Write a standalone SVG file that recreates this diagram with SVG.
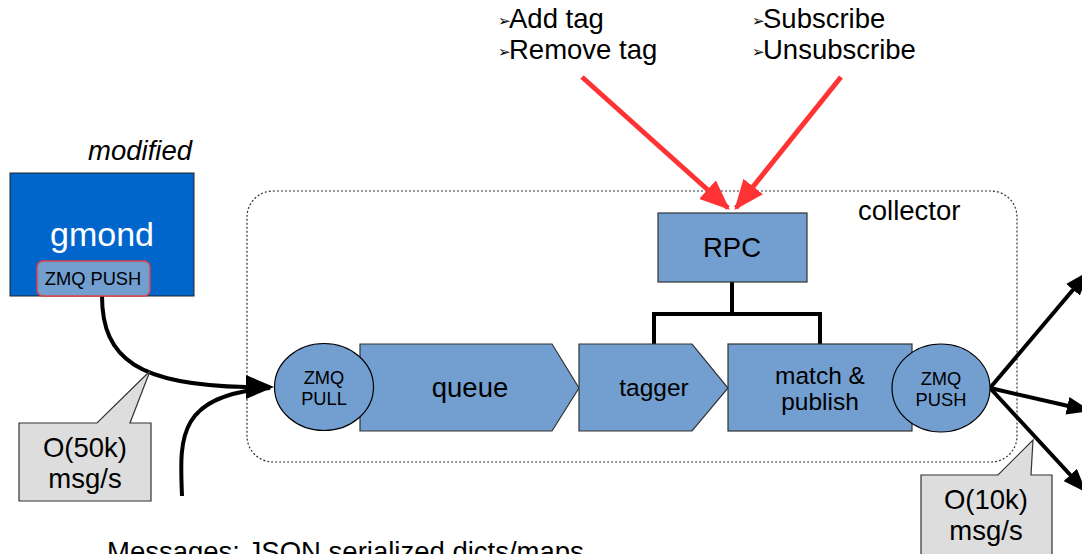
<svg xmlns="http://www.w3.org/2000/svg" width="1082" height="554" viewBox="0 0 1082 554">
<defs>
<style>
text{font-family:"Liberation Sans",Arial,sans-serif;fill:#000}
.blk{fill:#729fcf;stroke:#333;stroke-width:1.2}
.ell{fill:#729fcf;stroke:#000;stroke-width:1.2}
.call{fill:#dddddd;stroke:#333;stroke-width:1.2}
.wire{fill:none;stroke:#000;stroke-width:4}
.red{fill:none;stroke:#ff3333;stroke-width:5}
.t24{font-size:27.5px}
.t22{font-size:24.5px}
.t16{font-size:18.3px}
.mid{text-anchor:middle}
.bul{font-size:15px;font-family:"DejaVu Sans",sans-serif}
</style>
<marker id="ah" markerWidth="8" markerHeight="6" refX="7.5" refY="3" orient="auto" markerUnits="strokeWidth"><path d="M0,0 L8,3 L0,6 z" fill="#000"/></marker>
<marker id="ahr" markerWidth="6" markerHeight="5" refX="5.5" refY="2.5" orient="auto" markerUnits="strokeWidth"><path d="M0,0 L6,2.5 L0,5 z" fill="#ff3333"/></marker>
<marker id="ahs" markerWidth="6" markerHeight="4.5" refX="5.8" refY="2.25" orient="auto" markerUnits="strokeWidth"><path d="M0,0 L6,2.25 L0,4.5 z" fill="#000"/></marker>
</defs>

<g id="collector-boundary">
<rect x="247" y="191" width="770" height="271" rx="26" ry="26" fill="none" stroke="#333" stroke-width="1.2" stroke-dasharray="2,2"/>
<text class="t24" x="858" y="220">collector</text>
</g>

<g id="connectors">
<path class="wire" d="M102,296 C102,360 140,385 246,387"/>
<path class="wire" d="M182,496 C180,440 175,395 270,388"/>
<path d="M246,375 L274,387 L246,399 z" fill="#000"/>
<path class="wire" d="M732,282 V314 M654,344 V314 H820 V344"/>
<path class="red" d="M582,77 L728,208" marker-end="url(#ahr)"/>
<path class="red" d="M841,77 L736,208" marker-end="url(#ahr)"/>
<path class="wire" d="M990,388 L1088,272" marker-end="url(#ahs)"/>
<path class="wire" d="M990,388 L1090,411" marker-end="url(#ahs)"/>
<path class="wire" d="M990,388 L1086,492" marker-end="url(#ahs)"/>
</g>

<g id="gmond">
<text x="192" y="160" font-size="27.5" font-style="italic" text-anchor="end">modified</text>
<rect x="10" y="173" width="184" height="123" fill="#0066cc" stroke="#222" stroke-width="1"/>
<text x="102" y="246" font-size="34" class="mid" style="fill:#fff">gmond</text>
</g>
<g id="zmq-push-gmond">
<rect x="37" y="261" width="113" height="35" rx="6" ry="6" fill="#729fcf" stroke="#e0404a" stroke-width="1.5"/>
<text x="93" y="285" class="t16 mid">ZMQ PUSH</text>
</g>

<g id="rpc">
<rect class="blk" x="658" y="213" width="149" height="69"/>
<text x="732" y="257" class="t24 mid">RPC</text>
</g>

<g id="queue">
<path class="blk" d="M360,344 H552 L579,388 L552,431 H360 z"/>
<text x="470" y="397" class="t24 mid">queue</text>
</g>

<g id="tagger">
<path class="blk" d="M579,344 H692 L728,388 L692,431 H579 L579,344 z"/>
<text x="654" y="396" class="t22 mid">tagger</text>
</g>

<g id="match-publish">
<rect class="blk" x="728" y="344" width="184" height="87"/>
<text x="820" y="384" class="t22 mid">match &amp;</text>
<text x="820" y="410" class="t22 mid">publish</text>
</g>

<g id="zmq-pull">
<ellipse class="ell" cx="324" cy="387" rx="49.5" ry="43.5"/>
<text x="324" y="384" class="t16 mid">ZMQ</text>
<text x="324" y="405" class="t16 mid">PULL</text>
</g>

<g id="zmq-push">
<ellipse class="ell" cx="941" cy="388" rx="49" ry="44"/>
<text x="941" y="385" class="t16 mid">ZMQ</text>
<text x="941" y="406" class="t16 mid">PUSH</text>
</g>

<g id="callout-50k">
<path class="call" d="M19,423 H97 L150,371 L130,423 H151 V501 H19 z"/>
<text x="85" y="457" class="t24 mid">O(50k)</text>
<text x="85" y="488" class="t24 mid">msg/s</text>
</g>

<g id="callout-10k">
<path class="call" d="M921,475 H998 L1033,440 L1031,475 H1052 V556 H921 z"/>
<text x="986" y="509" class="t24 mid">O(10k)</text>
<text x="986" y="540" class="t24 mid">msg/s</text>
</g>

<g id="rpc-ops-tags">
<text x="498" y="28" class="t24"><tspan class="bul" dy="-2">➢</tspan><tspan x="509" dy="2">Add tag</tspan></text>
<text x="498" y="59" class="t24"><tspan class="bul" dy="-2">➢</tspan><tspan x="509" dy="2">Remove tag</tspan></text>
</g>
<g id="rpc-ops-subs">
<text x="752" y="28" class="t24"><tspan class="bul" dy="-2">➢</tspan><tspan x="763" dy="2">Subscribe</tspan></text>
<text x="752" y="59" class="t24"><tspan class="bul" dy="-2">➢</tspan><tspan x="763" dy="2">Unsubscribe</tspan></text>
</g>

<g id="note">
<text x="107" y="561" class="t24">Messages: JSON serialized dicts/maps</text>
</g>
</svg>
